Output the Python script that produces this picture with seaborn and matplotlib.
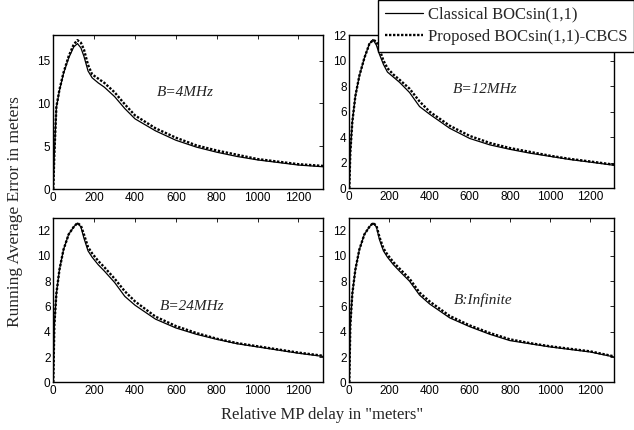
import matplotlib
matplotlib.use("Agg")
import matplotlib.pyplot as plt
import seaborn as sns
import pandas as pd

# ---------------- data ----------------
delay = [0, 5, 15, 30, 50, 75, 100, 118, 135, 150, 170, 190, 220, 250, 300,
         350, 400, 500, 600, 700, 800, 900, 1000, 1100, 1200, 1320]

b4_classical = [0, 4.0, 9.5, 11.5, 13.5, 15.3, 16.6, 17.0, 16.5, 15.5, 13.8, 13.0,
                12.4, 11.9, 10.8, 9.4, 8.2, 6.8, 5.7, 4.9, 4.3, 3.8, 3.4, 3.1, 2.8, 2.6]
b4_proposed = [0, 4.0, 9.6, 11.6, 13.6, 15.5, 16.9, 17.4, 17.1, 16.3, 14.5, 13.4,
               12.9, 12.4, 11.3, 9.9, 8.6, 7.1, 6.0, 5.1, 4.5, 4.0, 3.5, 3.2, 2.9, 2.7]

b12_classical = [0, 2.8, 5.2, 7.2, 8.8, 10.2, 11.3, 11.65, 11.2, 10.5, 9.7, 9.1,
                 8.7, 8.3, 7.5, 6.4, 5.8, 4.7, 3.9, 3.4, 3.05, 2.75, 2.5, 2.25, 2.05, 1.8]
b12_proposed = [0, 2.8, 5.2, 7.2, 8.8, 10.2, 11.3, 11.6, 11.5, 10.9, 10.0, 9.4,
                8.9, 8.5, 7.8, 6.8, 6.0, 4.9, 4.1, 3.55, 3.15, 2.85, 2.55, 2.3, 2.1, 1.85]

b24_classical = [0, 4.5, 7.0, 8.9, 10.5, 11.7, 12.3, 12.6, 12.3, 11.4, 10.4, 9.9,
                 9.3, 8.8, 7.9, 6.8, 6.1, 5.0, 4.3, 3.8, 3.4, 3.05, 2.8, 2.55, 2.3, 2.05]
b24_proposed = [0, 4.5, 7.0, 8.9, 10.5, 11.7, 12.3, 12.6, 12.4, 11.7, 10.7, 10.2,
                9.6, 9.1, 8.2, 7.2, 6.4, 5.2, 4.45, 3.9, 3.45, 3.1, 2.85, 2.6, 2.35, 2.1]

binf_classical = [0, 4.5, 7.0, 8.9, 10.5, 11.7, 12.3, 12.6, 12.3, 11.3, 10.4, 9.9,
                  9.3, 8.8, 8.0, 6.9, 6.2, 5.1, 4.4, 3.8, 3.3, 3.05, 2.8, 2.6, 2.4, 2.0]
binf_proposed = [0, 4.5, 7.0, 8.9, 10.5, 11.7, 12.3, 12.6, 12.4, 11.5, 10.6, 10.1,
                 9.5, 9.0, 8.2, 7.1, 6.4, 5.25, 4.5, 3.9, 3.4, 3.1, 2.85, 2.65, 2.45, 2.05]

series_names = ["Classical BOCsin(1,1)", "Proposed BOCsin(1,1)-CBCS"]
panel_labels = ["B=4MHz", "B=12MHz", "B=24MHz", "B:Infinite"]
panel_data = [(b4_classical, b4_proposed), (b12_classical, b12_proposed),
              (b24_classical, b24_proposed), (binf_classical, binf_proposed)]
y_limits = [18, 12, 13, 13]
y_steps = [5, 2, 2, 2]
x_ticks = [0, 200, 400, 600, 800, 1000, 1200]

# ---------------- style ----------------
sns.set_style("white")
plt.rcParams["font.family"] = ["Liberation Serif", "DejaVu Serif"]

W, H = 634, 430
fig = plt.figure(figsize=(W / 100, H / 100), dpi=100)

# axes rectangles in pixels: (left, top, right, bottom)
rects = [(53.3, 35, 323, 189), (349.3, 35, 614.3, 188.3),
         (53.3, 218, 323, 382.3), (349.3, 218, 614.3, 382.3)]
text_pos = [(644, 11.3), (676, 7.7), (677, 6.0), (667, 6.5)]

handles = None
for i, (l, t, r, b) in enumerate(rects):
    ax = fig.add_axes([l / W, 1 - b / H, (r - l) / W, (b - t) / H])
    cl, pr = panel_data[i]
    df = pd.DataFrame({
        "delay": delay * 2,
        "err": cl + pr,
        "series": [series_names[0]] * len(delay) + [series_names[1]] * len(delay),
    })
    sns.lineplot(data=df, x="delay", y="err", hue="series", style="series",
                 palette=["black", "black"],
                 dashes={series_names[0]: "", series_names[1]: (1, 0.7)},
                 ax=ax, legend=False)
    ax.lines[0].set_linewidth(0.9)
    ax.lines[1].set_linewidth(1.7)
    if handles is None:
        handles = [ax.lines[0], ax.lines[1]]
    ax.set_xlim(0, 1320)
    ax.set_ylim(0, y_limits[i])
    ax.set_xticks(x_ticks)
    ax.set_yticks(list(range(0, y_limits[i] + 1, y_steps[i])))
    ax.tick_params(direction="in", length=3, width=0.6, top=True, right=True,
                   labelsize=8.5, pad=2, colors="black")
    for lab in ax.get_xticklabels() + ax.get_yticklabels():
        lab.set_fontfamily("Liberation Sans")
    for sp in ax.spines.values():
        sp.set_linewidth(1.0)
        sp.set_color("black")
    ax.set_xlabel("")
    ax.set_ylabel("")
    ax.text(text_pos[i][0], text_pos[i][1], panel_labels[i], style="italic",
            fontsize=11, ha="center", va="center", color="#222222")

leg = fig.legend(handles, series_names, loc="upper right",
                 bbox_to_anchor=(1.0, 1.0), bbox_transform=fig.transFigure,
                 borderaxespad=0.0, fancybox=False, framealpha=1,
                 edgecolor="black", fontsize=12, handlelength=2.3,
                 handletextpad=0.3, borderpad=0.4, labelspacing=0.4)
leg.get_frame().set_linewidth(1.0)

fig.text(15 / W, 1 - 212 / H, "Running Average Error in meters", rotation=90,
         ha="center", va="center", fontsize=12.5)
fig.text(322 / W, 1 - 415 / H, 'Relative MP delay in "meters"',
         ha="center", va="center", fontsize=12)

fig.savefig("out.png", dpi=100)
